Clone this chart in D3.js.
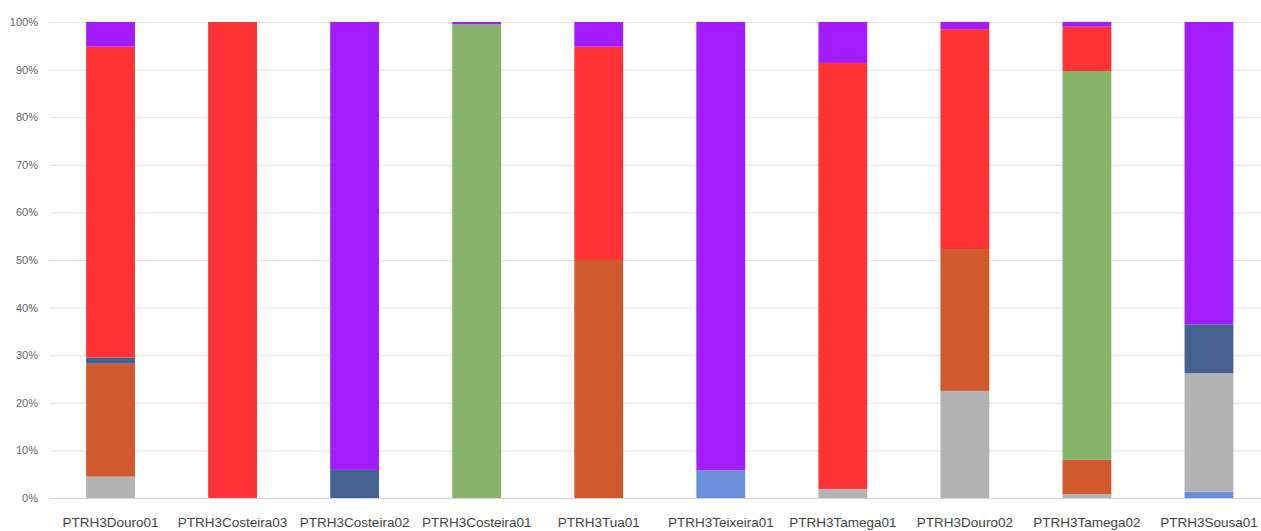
<!DOCTYPE html>
<html>
<head>
<meta charset="utf-8">
<script src="https://cdn.jsdelivr.net/npm/d3@7"></script>
<style>
  html, body { margin: 0; padding: 0; background: #fff; }
  svg { display: block; }
</style>
</head>
<body>
<svg id="chart" width="1261" height="531"></svg>
<script>
// Water bodies (categories)
const categories = ["PTRH3Douro01", "PTRH3Costeira03", "PTRH3Costeira02", "PTRH3Costeira01", "PTRH3Tua01",
                    "PTRH3Teixeira01", "PTRH3Tamega01", "PTRH3Douro02", "PTRH3Tamega02", "PTRH3Sousa01"];

// Share of each class per water body (%), stacked bottom to top
const seriesNames = ["s1", "s2", "s3", "s4", "s5", "s6", "s7"];
const s1 = [0,    0,   0,    0,    0,    5.8, 0,    0,    0,    1.3];
const s2 = [4.5,  0,   0,    0,    0,    0,   1.9,  22.5, 0.8,  24.9];
const s3 = [23.7, 0,   0,    0,    50,   0,   0,    29.8, 7.2,  0];
const s4 = [1.3,  0,   5.9,  0,    0,    0,   0,    0,    0,    10.3];
const s5 = [0,    0,   0,    99.5, 0,    0,   0,    0,    81.7, 0];
const s6 = [65.3, 100, 0,    0,    44.8, 0,   89.5, 46.2, 9.3,  0];
const s7 = [5.2,  0,   94.1, 0.5,  5.2,  94.2, 8.6, 1.5,  1.0,  63.5];
const colors = ["#6b8fd8", "#b3b3b3", "#d05a2e", "#44618f", "#87b46a", "#ff3333", "#a31bff"];

// Y axis tick values
const yTicks = [0, 10, 20, 30, 40, 50, 60, 70, 80, 90, 100];

const rows = categories.map((c, i) => {
  const r = { cat: c };
  [s1, s2, s3, s4, s5, s6, s7].forEach((arr, k) => { r[seriesNames[k]] = arr[i]; });
  return r;
});

const stacked = d3.stack().keys(seriesNames).offset(d3.stackOffsetExpand)(rows);

const svg = d3.select("#chart");
const margin = { left: 49.5, right: -9, top: 22, bottom: 33 };
const width = 1261, height = 531;

const x = d3.scaleBand()
  .domain(categories)
  .range([margin.left, width - margin.right])
  .paddingInner(0.6)
  .paddingOuter(0.3);

const y = d3.scaleLinear()
  .domain([0, 1])
  .range([height - margin.bottom, margin.top]);

// Gridlines
svg.append("g")
  .selectAll("line")
  .data(yTicks)
  .join("line")
  .attr("x1", margin.left)
  .attr("x2", width)
  .attr("y1", d => y(d / 100) + 0.5)
  .attr("y2", d => y(d / 100) + 0.5)
  .attr("stroke", d => d === 0 ? "#d4d4d4" : "#e2e2e2")
  .attr("stroke-width", 1);

// Y axis labels
const yAxis = d3.axisLeft(y)
  .tickValues(yTicks.map(d => d / 100))
  .tickFormat(d => Math.round(d * 100) + "%")
  .tickSize(0)
  .tickPadding(0);

svg.append("g")
  .attr("transform", `translate(38,0)`)
  .call(yAxis)
  .call(g => g.select(".domain").remove())
  .call(g => g.selectAll("text")
    .attr("font-family", "'Liberation Sans', Arial, sans-serif")
    .attr("font-size", 11)
    .attr("fill", "#666")
    .attr("dy", "0.32em"));

// Stacked bars
svg.append("g")
  .selectAll("g")
  .data(stacked)
  .join("g")
  .attr("fill", (d, i) => colors[i])
  .selectAll("rect")
  .data(d => d)
  .join("rect")
  .attr("x", d => x(d.data.cat))
  .attr("width", x.bandwidth())
  .attr("y", d => y(d[1]))
  .attr("height", d => Math.max(0, y(d[0]) - y(d[1])));

// X axis labels
const xAxis = d3.axisBottom(x).tickSize(0).tickPadding(0);
svg.append("g")
  .attr("transform", `translate(0,${height - 4})`)
  .call(xAxis)
  .call(g => g.select(".domain").remove())
  .call(g => g.selectAll("text")
    .attr("font-family", "'Liberation Sans', Arial, sans-serif")
    .attr("font-size", 13.5)
    .attr("fill", "#444")
    .attr("dy", 0));
</script>
</body>
</html>
